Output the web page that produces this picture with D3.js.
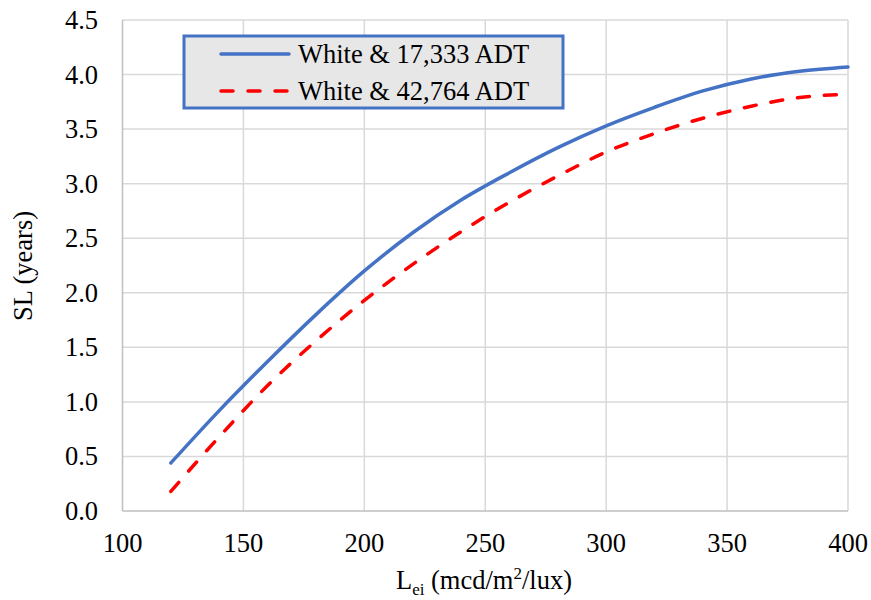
<!DOCTYPE html>
<html><head><meta charset="utf-8">
<script src="https://cdn.jsdelivr.net/npm/d3@7"></script>
<style>body{margin:0;background:#fff}svg{display:block}</style>
</head><body><svg id="c" width="871" height="600" style="font-family:'Liberation Serif'"></svg>
<script>
const xValues = [120,140,160,180,200,220,240,260,280,300,320,340,360,380,400];
const seriesA = [0.44,0.92,1.37,1.80,2.20,2.55,2.85,3.10,3.33,3.53,3.70,3.85,3.96,4.03,4.07];
const seriesB = [0.18,0.68,1.15,1.56,1.93,2.26,2.56,2.83,3.07,3.29,3.46,3.60,3.71,3.79,3.82];
const seriesNames = ["White & 17,333 ADT","White & 42,764 ADT"];
const xTicks = [100,150,200,250,300,350,400];
const yTicks = [0,0.5,1,1.5,2,2.5,3,3.5,4,4.5];

const FS = "26.5px";
const FF = '"Liberation Serif"';
const svg = d3.select("#c");
const m = {l:122.5, r:848, t:20, b:511};
const x = d3.scaleLinear().domain([100,400]).range([m.l,m.r]);
const y = d3.scaleLinear().domain([0,4.5]).range([m.b,m.t]);

// gridlines
svg.append("g").selectAll("line").data(yTicks.slice(1)).join("line")
  .attr("x1",m.l).attr("x2",m.r).attr("y1",d=>y(d)).attr("y2",d=>y(d))
  .attr("stroke","#d9d9d9").attr("stroke-width",1.5);
svg.append("g").selectAll("line").data(xTicks.slice(1)).join("line")
  .attr("y1",m.t).attr("y2",m.b).attr("x1",d=>x(d)).attr("x2",d=>x(d))
  .attr("stroke","#d9d9d9").attr("stroke-width",1.5);
// axes lines
svg.append("line").attr("x1",m.l).attr("x2",m.l).attr("y1",m.t).attr("y2",m.b).attr("stroke","#bfbfbf").attr("stroke-width",1.5);
svg.append("line").attr("x1",m.l).attr("x2",m.r).attr("y1",m.b).attr("y2",m.b).attr("stroke","#bfbfbf").attr("stroke-width",1.5);

// tick labels
svg.append("g").selectAll("text").data(yTicks).join("text")
  .attr("x",98).attr("y",d=>y(d)).attr("dy","0.34em").attr("text-anchor","end")
  .style("font-family",FF).style("font-size",FS).text(d=>d3.format(".1f")(d));
svg.append("g").selectAll("text").data(xTicks).join("text")
  .attr("x",d=>x(d)).attr("y",552).attr("text-anchor","middle")
  .style("font-family",FF).style("font-size",FS).text(d=>d);

// titles
svg.append("text").attr("transform","translate(32,266) rotate(-90)").attr("text-anchor","middle")
  .style("font-family",FF).style("font-size",FS).text("SL (years)");
const xt = svg.append("text").attr("x",484).attr("y",589).attr("text-anchor","middle")
  .style("font-family",FF).style("font-size",FS);
xt.append("tspan").text("L");
xt.append("tspan").attr("dy",6).style("font-size","17px").text("ei");
xt.append("tspan").attr("dy",-6).text(" (mcd/m");
xt.append("tspan").attr("dy",-10).style("font-size","17px").text("2");
xt.append("tspan").attr("dy",10).text("/lux)");

// lines
const line = d3.line().x(d=>x(d[0])).y(d=>y(d[1])).curve(d3.curveMonotoneX);
svg.append("path").datum(d3.zip(xValues,seriesA)).attr("d",line)
  .attr("fill","none").attr("stroke","#4472C4").attr("stroke-width",3.5).attr("stroke-linecap","round");
svg.append("path").datum(d3.zip(xValues,seriesB)).attr("d",line)
  .attr("fill","none").attr("stroke","#FF0000").attr("stroke-width",3.5)
  .attr("stroke-linecap","round").attr("stroke-dasharray","12,15");

// legend
const lg = svg.append("g");
lg.append("rect").attr("x",184).attr("y",36).attr("width",379).attr("height",72)
  .attr("fill","#e7e7e7").attr("stroke","#4472C4").attr("stroke-width",3);
const items = [{n:seriesNames[0],c:"#4472C4",d:null,yy:54},{n:seriesNames[1],c:"#FF0000",d:"12,15",yy:91}];
items.forEach(it=>{
  lg.append("line").attr("x1",221).attr("x2",289).attr("y1",it.yy).attr("y2",it.yy)
    .attr("stroke",it.c).attr("stroke-width",3.5).attr("stroke-linecap","round")
    .attr("stroke-dasharray",it.d);
  lg.append("text").attr("x",298).attr("y",it.yy).attr("dy","0.34em")
    .style("font-family",FF).style("font-size",FS).text(it.n);
});
</script></body></html>
